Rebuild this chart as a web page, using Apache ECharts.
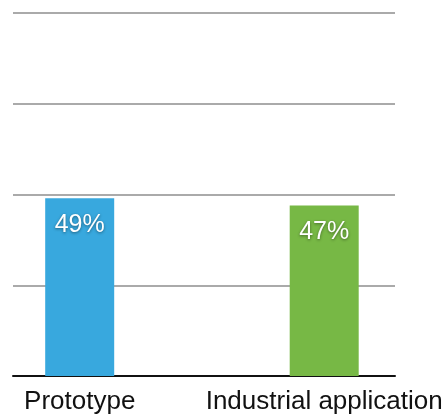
<!DOCTYPE html>
<html>
<head>
<meta charset="utf-8">
<script src="https://cdn.jsdelivr.net/npm/echarts@6/dist/echarts.min.js"></script>
<style>
html,body{margin:0;padding:0;background:#fff;}
#chart{width:446px;height:417px;}
</style>
</head>
<body>
<div id="chart"></div>
<script>
const categories = ['Prototype', 'Industrial application'];
const values = [49, 47];
const barColors = ['#38a8de', '#77b845'];
const yTicks = [0, 25, 50, 75, 100];

const chart = echarts.init(document.getElementById('chart'), null, {renderer: 'canvas'});
const font = '"Liberation Sans", Arial, Helvetica, sans-serif';
chart.setOption({
  animation: false,
  backgroundColor: '#ffffff',
  grid: [
    {left: 13, right: 51, top: 13, bottom: 41},
    {left: 79.7, right: 121.8, top: 13, bottom: 41}
  ],
  xAxis: [
    {gridIndex: 0, type: 'value', min: 0, max: 1,
      axisLine: {show: true, lineStyle: {color: '#111', width: 2}},
      axisTick: {show: false}, axisLabel: {show: false}, splitLine: {show: false}},
    {gridIndex: 1, type: 'category', data: categories, boundaryGap: false,
      axisLine: {show: false}, axisTick: {show: false},
      axisLabel: {show: true, color: '#111', fontSize: 26, fontFamily: font, margin: 13, interval: 0},
      splitLine: {show: false}}
  ],
  yAxis: [
    {gridIndex: 0, type: 'value', min: yTicks[0], max: yTicks[yTicks.length - 1], interval: 25,
      axisLine: {show: false}, axisTick: {show: false}, axisLabel: {show: false},
      splitLine: {show: true, lineStyle: {color: '#aaaaaa', width: 2}}},
    {gridIndex: 1, type: 'value', min: yTicks[0], max: yTicks[yTicks.length - 1], interval: 25,
      axisLine: {show: false}, axisTick: {show: false}, axisLabel: {show: false},
      splitLine: {show: false}}
  ],
  series: [{
    type: 'bar',
    xAxisIndex: 1,
    yAxisIndex: 1,
    barWidth: 69,
    clip: false,
    data: values.map((v, i) => ({value: v, itemStyle: {color: barColors[i]}})),
    label: {
      show: true,
      position: 'insideTop',
      distance: 14,
      formatter: p => p.value + '%',
      color: '#ffffff',
      fontSize: 25,
      fontFamily: font,
      textShadowColor: 'rgba(0,0,0,0.45)',
      textShadowBlur: 3,
      textShadowOffsetY: 1
    }
  }]
});
</script>
</body>
</html>
